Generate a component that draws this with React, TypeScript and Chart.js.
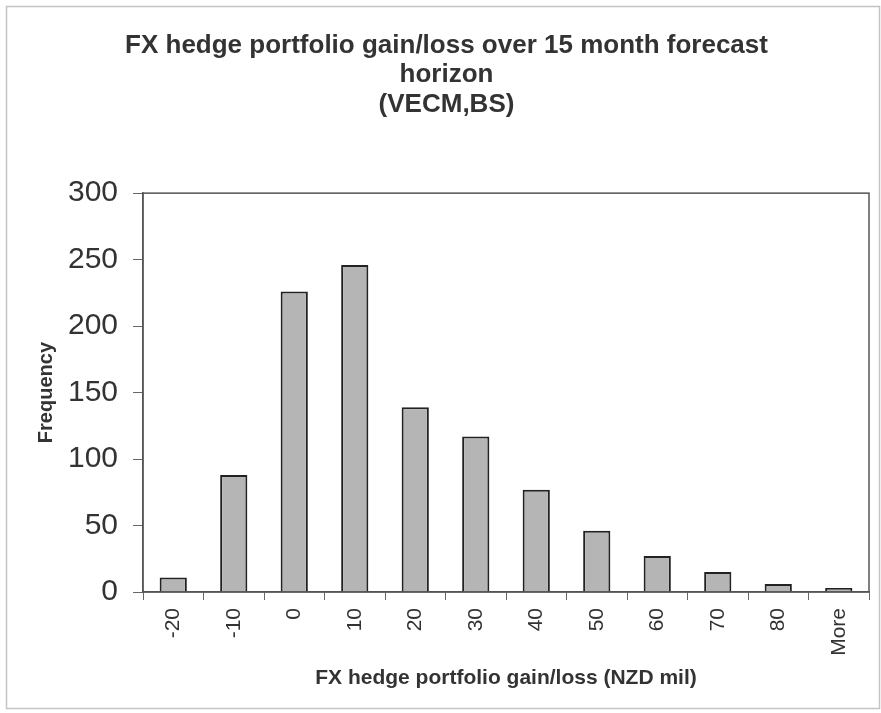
import React, { useEffect, useRef } from "react";
import { Chart, registerables } from "chart.js";

Chart.register(...registerables);

const titleLines = ["FX hedge portfolio gain/loss over 15 month forecast", "horizon", "(VECM,BS)"];
const categories = ["-20", "-10", "0", "10", "20", "30", "40", "50", "60", "70", "80", "More"];
const frequencies = [11, 88, 226, 246, 139, 117, 77, 46, 27, 15, 6, 3];
const xAxisTitle = "FX hedge portfolio gain/loss (NZD mil)";
const yAxisTitle = "Frequency";

const FONT = "'Liberation Sans', Arial, sans-serif";

const framePlugin = {
  id: "frame",
  beforeDraw(chart: any) {
    const ctx = chart.ctx;
    ctx.save();
    ctx.fillStyle = "#ffffff";
    ctx.fillRect(0, 0, chart.width, chart.height);
    ctx.strokeStyle = "#c4c4c4";
    ctx.lineWidth = 1.5;
    ctx.strokeRect(6.5, 6.5, chart.width - 8, chart.height - 11);
    ctx.restore();
  },
  afterDatasetsDraw(chart: any) {
    const { left, top, right, bottom } = chart.chartArea;
    const ctx = chart.ctx;
    ctx.save();
    ctx.strokeStyle = "#555555";
    ctx.lineWidth = 1.5;
    ctx.strokeRect(left, top, right - left, bottom - top);
    ctx.restore();
  },
};

export default function App() {
  const ref = useRef<HTMLCanvasElement | null>(null);
  useEffect(() => {
    if (!ref.current) return;
    const chart = new Chart(ref.current, {
      type: "bar",
      data: {
        labels: categories,
        datasets: [
          {
            data: frequencies,
            backgroundColor: "#b5b5b5",
            borderColor: "#222222",
            borderWidth: 2,
            barPercentage: 0.45,
            categoryPercentage: 1,
          },
        ],
      },
      options: {
        animation: false,
        responsive: true,
        maintainAspectRatio: false,
        layout: { padding: { left: 24, right: 12, top: 0, bottom: 0 } },
        plugins: {
          legend: { display: false },
          tooltip: { enabled: false },
          title: {
            display: true,
            text: titleLines,
            color: "#333333",
            font: { family: FONT, size: 26, weight: "bold", lineHeight: 1.13 },
            padding: { top: 31, bottom: 74 },
          },
        },
        scales: {
          x: {
            afterFit: (s: any) => {
              s.height = 121;
            },
            grid: {
              display: true,
              drawOnChartArea: false,
              drawTicks: true,
              tickLength: 8,
              color: "#666666",
              offset: true,
            },
            border: { display: true, color: "#555555", width: 1.5 },
            ticks: {
              color: "#333333",
              font: { family: FONT, size: 21 },
              minRotation: 90,
              maxRotation: 90,
              padding: 8,
              autoSkip: false,
            },
            title: {
              display: true,
              text: xAxisTitle,
              color: "#333333",
              font: { family: FONT, size: 21, weight: "bold" },
              padding: { top: 22.4, bottom: 22.4 },
            },
          },
          y: {
            min: 0,
            max: 300,
            afterFit: (s: any) => {
              s.width = 119;
            },
            grid: {
              display: true,
              drawOnChartArea: false,
              drawTicks: true,
              tickLength: 10,
              color: "#666666",
            },
            border: { display: true, color: "#555555", width: 1.5 },
            ticks: {
              stepSize: 50,
              color: "#333333",
              font: { family: FONT, size: 30 },
              padding: 15,
            },
            title: {
              display: true,
              text: yAxisTitle,
              color: "#333333",
              font: { family: FONT, size: 20, weight: "bold" },
              padding: { top: 10, bottom: 10 },
            },
          },
        },
      },
      plugins: [framePlugin],
    });
    return () => chart.destroy();
  }, []);

  return (
    <div style={{ position: "fixed", left: 0, top: 0, width: 881, height: 713 }}>
      <canvas ref={ref} />
    </div>
  );
}
